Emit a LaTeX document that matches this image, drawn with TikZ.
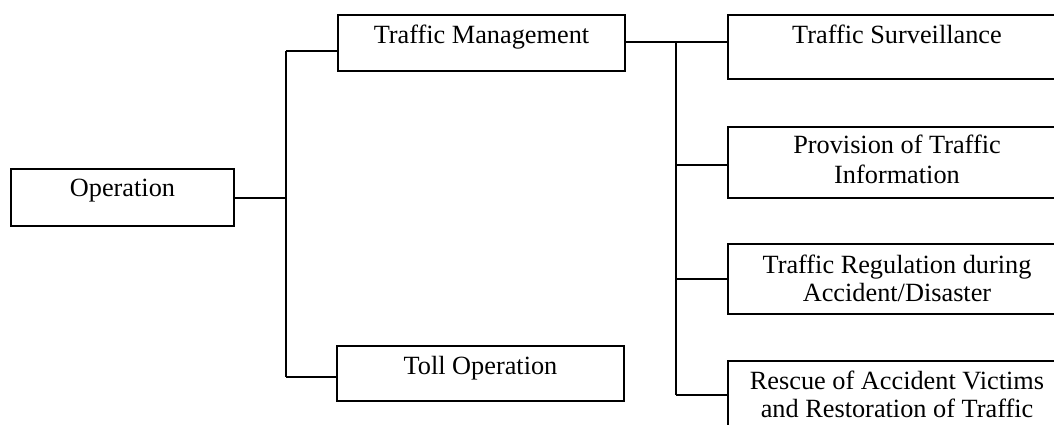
\documentclass[tikz,border=0pt]{standalone}
\usepackage{fontspec}
\setmainfont{Liberation Serif}
\begin{document}
\begin{tikzpicture}[x=0.5pt,y=-0.5pt,
  box/.style={draw, line width=0.7pt, rectangle, inner sep=0pt, outer sep=0pt},
  txt/.style={anchor=north, inner sep=0pt, align=center, font=\fontsize{13.15}{13.6}\selectfont},
  conn/.style={line width=0.7pt}]
\clip (0,0) rectangle (1054,424);
% boxes
\node[box, minimum width=111.5pt, minimum height=28.5pt] (op) at (122.5,197.5) {};
\node[box, minimum width=143.5pt, minimum height=28pt] (tm) at (481.5,43) {};
\node[box, minimum width=143.5pt, minimum height=27.5pt] (toll) at (480.5,373.5) {};
\node[box, minimum width=169pt, minimum height=32pt] (ts) at (897,47) {};
\node[box, minimum width=169pt, minimum height=35.5pt] (pi) at (897,162.5) {};
\node[box, minimum width=169pt, minimum height=35pt] (tr) at (897,279) {};
\node[box, minimum width=169pt, minimum height=35pt] (rv) at (897,396) {};
% texts
\node[txt] (opt) at ([yshift=-5pt]op.north) {Operation};
\node[txt] (tmt) at ([yshift=-5pt]tm.north) {Traffic Management};
\node[txt] (tollt) at ([yshift=-5pt]toll.north) {Toll Operation};
\node[txt] (tst) at ([yshift=-5pt]ts.north) {Traffic Surveillance};
\node[txt, font=\fontsize{13.15}{15}\selectfont] (pit) at ([yshift=-4pt]pi.north) {Provision of Traffic\\Information};
\node[txt] (trt) at ([yshift=-5.5pt]tr.north) {Traffic Regulation during\\Accident/Disaster};
\node[txt] (rvt) at ([yshift=-5pt]rv.north) {Rescue of Accident Victims\\and Restoration of Traffic};
% junction coordinates
\coordinate (j1) at (286,198);
\coordinate (j1t) at (286,51);
\coordinate (j1b) at (286,377);
\coordinate (j2t) at (676,42);
\coordinate (j2p) at (676,165);
\coordinate (j2r) at (676,279);
\coordinate (j2b) at (676,395);
% connectors
\draw[conn] (op.east |- j1) -- (j1);
\draw[conn] (j1t) -- (j1b);
\draw[conn] (j1t) -- (tm.west |- j1t);
\draw[conn] (j1b) -- (toll.west |- j1b);
\draw[conn] (tm.east |- j2t) -- (ts.west |- j2t);
\draw[conn] (j2t) -- (j2b);
\draw[conn] (j2p) -- (pi.west |- j2p);
\draw[conn] (j2r) -- (tr.west |- j2r);
\draw[conn] (j2b) -- (rv.west |- j2b);
\end{tikzpicture}
\end{document}
